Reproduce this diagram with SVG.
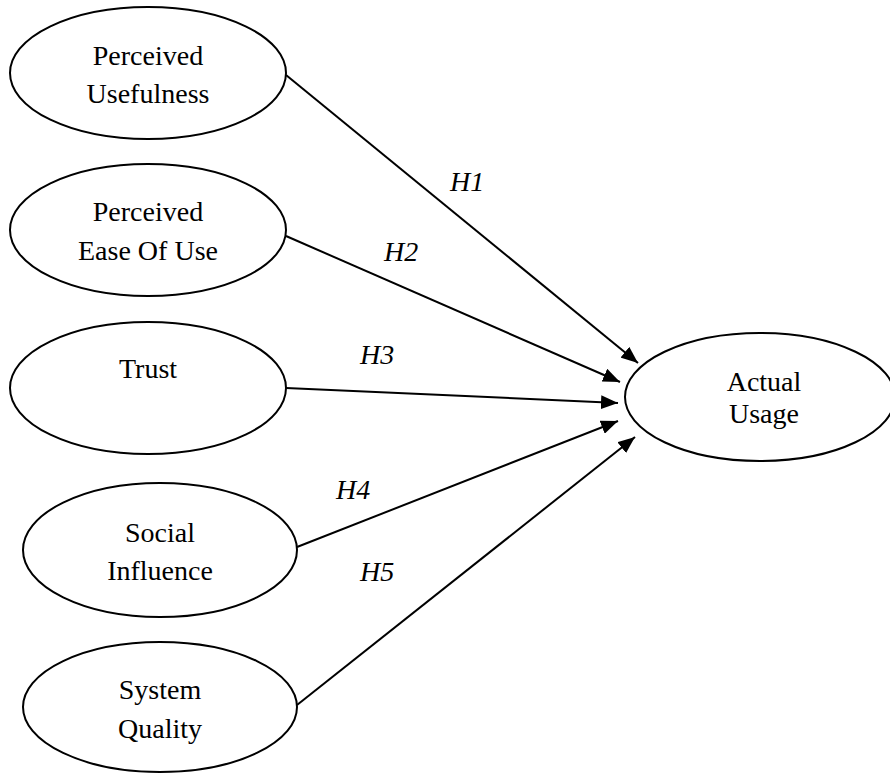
<svg xmlns="http://www.w3.org/2000/svg" width="890" height="773" viewBox="0 0 890 773">
<style>
.node ellipse{fill:#fff;stroke:#000;stroke-width:2}
.node text{font-family:"Liberation Serif","Times New Roman",serif;font-size:28px;fill:#000;text-anchor:middle}
.conn line{stroke:#000;stroke-width:2;fill:none}
.lbl{font-family:"Liberation Serif","Times New Roman",serif;font-style:italic;font-size:28px;fill:#000}
</style>
<defs>
<marker id="arr" markerUnits="userSpaceOnUse" markerWidth="18" markerHeight="14" refX="17" refY="7" orient="auto">
<path d="M0,0 L17,7 L0,14 z" fill="#000"/>
</marker>
</defs>
<rect width="890" height="773" fill="#fff"/>
<g class="conn">
<line x1="286" y1="75" x2="638" y2="363" marker-end="url(#arr)"/>
<line x1="286" y1="236" x2="620" y2="382" marker-end="url(#arr)"/>
<line x1="286" y1="388" x2="618" y2="403" marker-end="url(#arr)"/>
<line x1="297" y1="547" x2="618" y2="421" marker-end="url(#arr)"/>
<line x1="297" y1="705" x2="635" y2="437" marker-end="url(#arr)"/>
<text class="lbl" x="450" y="191">H1</text>
<text class="lbl" x="384" y="261">H2</text>
<text class="lbl" x="360" y="364">H3</text>
<text class="lbl" x="336" y="499">H4</text>
<text class="lbl" x="360" y="581">H5</text>
</g>
<g id="pu" class="node">
<ellipse cx="148" cy="73" rx="138" ry="66"/>
<text x="148" y="65">Perceived</text>
<text x="148" y="103">Usefulness</text>
</g>
<g id="peou" class="node">
<ellipse cx="148" cy="230" rx="138" ry="66"/>
<text x="148" y="221">Perceived</text>
<text x="148" y="260">Ease Of Use</text>
</g>
<g id="trust" class="node">
<ellipse cx="148" cy="388" rx="138" ry="66"/>
<text x="148" y="378">Trust</text>
</g>
<g id="si" class="node">
<ellipse cx="160" cy="550" rx="137" ry="67"/>
<text x="160" y="542">Social</text>
<text x="160" y="580">Influence</text>
</g>
<g id="sq" class="node">
<ellipse cx="160" cy="707" rx="137" ry="65"/>
<text x="160" y="699">System</text>
<text x="160" y="738">Quality</text>
</g>
<g id="au" class="node">
<ellipse cx="760" cy="397" rx="135" ry="64"/>
<text x="764" y="391">Actual</text>
<text x="764" y="423">Usage</text>
</g>
</svg>
